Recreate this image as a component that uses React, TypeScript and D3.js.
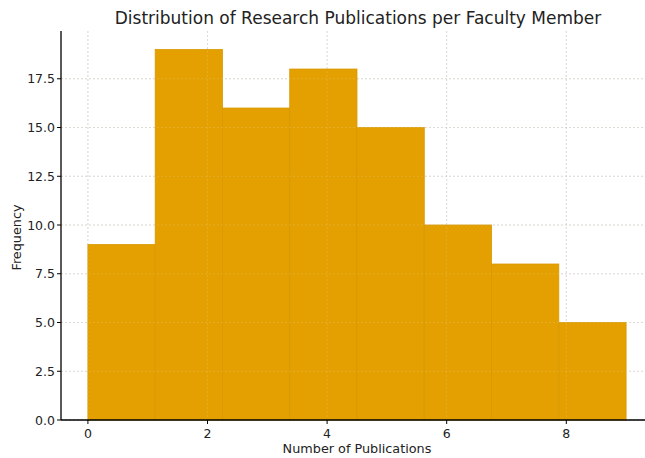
import React from "react";
import * as d3 from "d3";

const binEdges = [0, 1.125, 2.25, 3.375, 4.5, 5.625, 6.75, 7.875, 9];
const counts = [9, 19, 16, 18, 15, 10, 8, 5];
const xTicks = [0, 2, 4, 6, 8];
const yTicks = [0, 2.5, 5, 7.5, 10, 12.5, 15, 17.5];

const W = 645;
const H = 458;
const left = 61;
const right = 653;
const top = 31;
const bottom = 420;

export default function App() {
  const x = d3.scaleLinear().domain([-0.45, 9.45]).range([left, right]);
  const y = d3.scaleLinear().domain([0, 19.95]).range([bottom, top]);
  const font = "DejaVu Sans, sans-serif";
  const grid = (opacity: number, color: string) => (
    <g opacity={opacity}>
      {xTicks.map((t) => (
        <line key={"gx" + t} x1={x(t)} x2={x(t)} y1={top} y2={bottom} stroke={color} strokeWidth={0.8} strokeDasharray="2,2" />
      ))}
      {yTicks.map((t) => (
        <line key={"gy" + t} x1={left} x2={right} y1={y(t)} y2={y(t)} stroke={color} strokeWidth={0.8} strokeDasharray="2,2" />
      ))}
    </g>
  );
  return (
    <svg width={W} height={H} style={{ position: "absolute", left: 0, top: 0, background: "#fff" }}>
      {grid(1, "#cfcfcf")}
      {counts.map((c, i) => (
        <rect
          key={"b" + i}
          x={x(binEdges[i])}
          y={y(c)}
          width={x(binEdges[i + 1]) - x(binEdges[i])}
          height={y(0) - y(c)}
          fill="#E3A000"
          stroke="#D89800"
          strokeWidth={0.8}
        />
      ))}
      {grid(0.25, "#f0e0c0")}
      <line x1={left} x2={left} y1={top} y2={bottom} stroke="#000" strokeWidth={1.3} />
      <line x1={left} x2={right} y1={bottom} y2={bottom} stroke="#000" strokeWidth={1.3} />
      {xTicks.map((t) => (
        <g key={"xt" + t}>
          <line x1={x(t)} x2={x(t)} y1={bottom} y2={bottom + 4} stroke="#000" />
          <text x={x(t)} y={bottom + 18} textAnchor="middle" fontFamily={font} fontSize={12.5} fill="#222">
            {t}
          </text>
        </g>
      ))}
      {yTicks.map((t) => (
        <g key={"yt" + t}>
          <line x1={left - 4} x2={left} y1={y(t)} y2={y(t)} stroke="#000" />
          <text x={left - 6} y={y(t) + 4.5} textAnchor="end" fontFamily={font} fontSize={12.5} fill="#222">
            {t.toFixed(1)}
          </text>
        </g>
      ))}
      <text x={358} y={24} textAnchor="middle" fontFamily={font} fontSize={17} fill="#222">
        Distribution of Research Publications per Faculty Member
      </text>
      <text x={357} y={453} textAnchor="middle" fontFamily={font} fontSize={12.8} fill="#222">
        Number of Publications
      </text>
      <text transform={`translate(21, ${(top + bottom) / 2 + 12}) rotate(-90)`} textAnchor="middle" fontFamily={font} fontSize={12.8} fill="#222">
        Frequency
      </text>
    </svg>
  );
}
